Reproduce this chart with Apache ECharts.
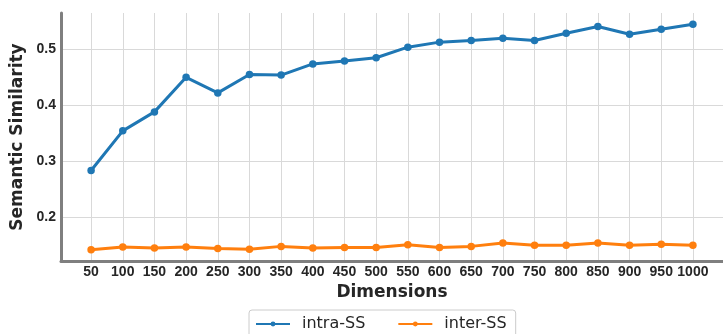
<!DOCTYPE html>
<html>
<head>
<meta charset="utf-8">
<script src="https://cdn.jsdelivr.net/npm/echarts@6/dist/echarts.min.js"></script>
<style>
  html, body { margin: 0; padding: 0; background: #fff; }
  #chart { width: 723px; height: 334px; }
</style>
</head>
<body>
<div id="chart"></div>
<script>
// Embedding dimensions on the x axis
const dimensions = [50, 100, 150, 200, 250, 300, 350, 400, 450, 500,
                    550, 600, 650, 700, 750, 800, 850, 900, 950, 1000];

// Semantic similarity within classes
const intraSS = [0.283, 0.354, 0.388, 0.450, 0.422, 0.455, 0.454, 0.474, 0.479, 0.485,
                 0.504, 0.513, 0.516, 0.520, 0.516, 0.529, 0.541, 0.527, 0.536, 0.545];

// Semantic similarity across classes
const interSS = [0.141, 0.146, 0.144, 0.146, 0.143, 0.142, 0.147, 0.144, 0.145, 0.145,
                 0.150, 0.145, 0.147, 0.153, 0.149, 0.149, 0.153, 0.149, 0.151, 0.149];

// Tick marks on the y axis
const yTicks = [0.2, 0.3, 0.4, 0.5];

const seriesNames = ['intra-SS', 'inter-SS'];

const pairs = (vals) => dimensions.map((d, i) => [d, vals[i]]);

const tickFont = 'Liberation Sans, Arial, sans-serif';
const titleFont = 'DejaVu Sans, sans-serif';
const textColor = '#262626';
const gridColor = '#d9d9d9';
const spineColor = '#7f7f7f';

const chart = echarts.init(document.getElementById('chart'), null, { renderer: 'canvas' });

chart.setOption({
  animation: false,
  backgroundColor: '#fff',
  grid: { left: 61, right: -5, top: 13, bottom: 73, containLabel: false },
  xAxis: {
    type: 'value',
    min: 2.5,
    max: 1047.5,
    name: 'Dimensions',
    nameLocation: 'middle',
    nameGap: 23,
    nameTextStyle: { fontFamily: titleFont, fontWeight: 'bold', fontSize: 17, color: textColor },
    axisLine: { show: true, onZero: false, lineStyle: { color: spineColor, width: 3 } },
    axisTick: { show: false, customValues: dimensions },
    axisLabel: {
      customValues: dimensions,
      margin: 4,
      formatter: (v) => String(v),
      fontFamily: tickFont, fontWeight: 'bold', fontSize: 14, color: textColor
    },
    splitLine: { show: true, lineStyle: { color: gridColor, width: 1 } }
  },
  yAxis: {
    type: 'value',
    min: 0.1208,
    max: 0.5652,
    name: 'Semantic Similarity',
    nameLocation: 'middle',
    nameGap: 33,
    nameTextStyle: { fontFamily: titleFont, fontWeight: 'bold', fontSize: 17, color: textColor },
    axisLine: { show: true, onZero: false, lineStyle: { color: spineColor, width: 3 } },
    axisTick: { show: false, customValues: yTicks },
    axisLabel: {
      customValues: yTicks,
      margin: 5,
      formatter: (v) => v.toFixed(1),
      fontFamily: tickFont, fontWeight: 'bold', fontSize: 14, color: textColor
    },
    splitLine: { show: true, lineStyle: { color: gridColor, width: 1 } }
  },
  legend: {
    data: seriesNames,
    left: 249,
    top: 310,
    orient: 'horizontal',
    padding: [6, 9, 6, 6],
    itemGap: 32,
    itemWidth: 34,
    itemHeight: 6,
    borderColor: '#cccccc',
    borderWidth: 1,
    borderRadius: 3,
    backgroundColor: '#fff',
    textStyle: { fontFamily: titleFont, fontSize: 16, color: textColor, padding: [0, 0, 0, 7] }
  },
  series: [
    {
      name: seriesNames[0],
      type: 'line',
      data: pairs(intraSS),
      color: '#1f77b4',
      symbol: 'circle',
      symbolSize: 7.5,
      lineStyle: { width: 3 },
      z: 3
    },
    {
      name: seriesNames[1],
      type: 'line',
      data: pairs(interSS),
      color: '#ff7f0e',
      symbol: 'circle',
      symbolSize: 7.5,
      lineStyle: { width: 3 },
      z: 4
    }
  ]
});
</script>
</body>
</html>
